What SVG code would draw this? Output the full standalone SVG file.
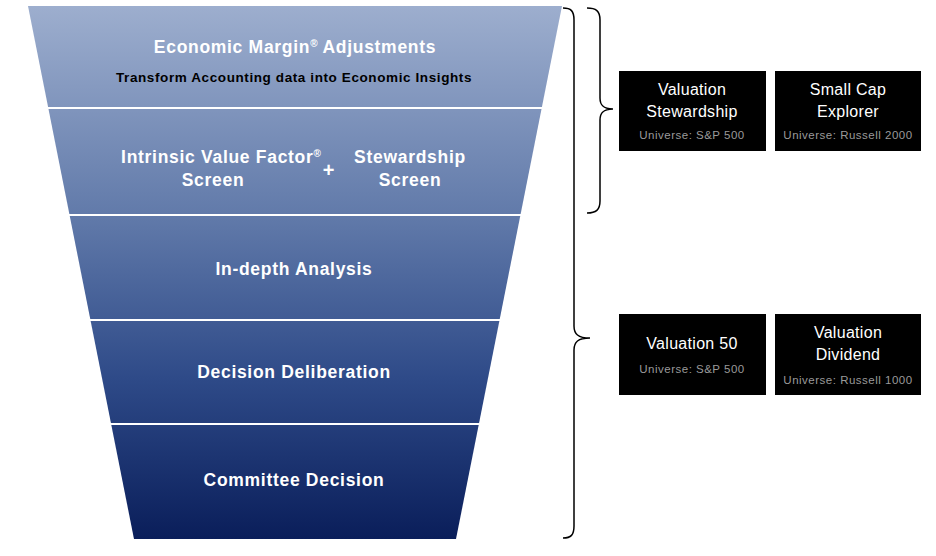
<svg xmlns="http://www.w3.org/2000/svg" width="936" height="556" viewBox="0 0 936 556">
<defs>
<linearGradient id="fg" gradientUnits="userSpaceOnUse" x1="0" y1="6" x2="0" y2="539">
<stop offset="0" stop-color="#9DAECE"/>
<stop offset="0.4" stop-color="#6079A9"/>
<stop offset="0.7" stop-color="#2E4A88"/>
<stop offset="1" stop-color="#0A1E5A"/>
</linearGradient>
<style>
.ft{font-family:"Liberation Sans",Arial,sans-serif;font-weight:bold;fill:#fff;text-anchor:middle;font-size:17.5px;letter-spacing:0.7px}
.sup{font-size:10px;letter-spacing:0}
.sub{font-family:"Liberation Sans",Arial,sans-serif;font-weight:bold;fill:#000;text-anchor:middle;font-size:13.5px;letter-spacing:0.6px}
.bx{fill:#000}
.bt{font-family:"Liberation Sans",Arial,sans-serif;fill:#fff;text-anchor:middle;font-size:16px;letter-spacing:0.3px}
.bs{font-family:"Liberation Sans",Arial,sans-serif;fill:#9a9a9a;text-anchor:middle;font-size:11.5px;letter-spacing:0.5px}
.sep{stroke:#fff;stroke-width:2}
.brace{fill:none;stroke:#000;stroke-width:1.5}
</style>
</defs>
<g id="funnel">
<polygon points="28,6 562,6 456,539 134,539" fill="url(#fg)"/>
</g>
<g id="separators">
<line class="sep" x1="40" y1="108" x2="550" y2="108"/>
<line class="sep" x1="60" y1="215" x2="530" y2="215"/>
<line class="sep" x1="80" y1="320" x2="510" y2="320"/>
<line class="sep" x1="100" y1="424" x2="490" y2="424"/>
</g>
<g id="stage1">
<text class="ft" x="295" y="53">Economic Margin<tspan class="sup" dy="-6">®</tspan><tspan dy="6"> Adjustments</tspan></text>
<text class="sub" x="294" y="82">Transform Accounting data into Economic Insights</text>
</g>
<g id="stage2">
<text class="ft" x="221" y="163">Intrinsic Value Factor<tspan class="sup" dy="-6">®</tspan></text>
<text class="ft" x="213" y="186">Screen</text>
<text class="ft" x="329" y="177" style="font-size:20px">+</text>
<text class="ft" x="410" y="163">Stewardship</text>
<text class="ft" x="410" y="186">Screen</text>
</g>
<g id="stage3"><text class="ft" x="294" y="275">In-depth Analysis</text></g>
<g id="stage4"><text class="ft" x="294" y="378">Decision Deliberation</text></g>
<g id="stage5"><text class="ft" x="294" y="486">Committee Decision</text></g>
<g id="connectors">
<path class="brace" d="M563,8 C571,8 574,11 574,20 L574,326 C574,334 578,338 590,338 C578,338 574,342 574,350 L574,526 C574,535 571,538 563,538"/>
<path class="brace" d="M587,8 C596,8 600,11 600,20 L600,98 C600,105 603,109 613,109 C603,109 600,113 600,120 L600,201 C600,210 596,213 587,213"/>
</g>
<g id="box-valuation-stewardship">
<rect class="bx" x="619" y="71" width="147" height="80"/>
<text class="bt" x="692" y="95">Valuation</text>
<text class="bt" x="692" y="117">Stewardship</text>
<text class="bs" x="692" y="139">Universe: S&amp;P 500</text>
</g>
<g id="box-small-cap">
<rect class="bx" x="775" y="71" width="146" height="80"/>
<text class="bt" x="848" y="95">Small Cap</text>
<text class="bt" x="848" y="117">Explorer</text>
<text class="bs" x="848" y="139">Universe: Russell 2000</text>
</g>
<g id="box-valuation-50">
<rect class="bx" x="619" y="314" width="147" height="81"/>
<text class="bt" x="692" y="349">Valuation 50</text>
<text class="bs" x="692" y="373">Universe: S&amp;P 500</text>
</g>
<g id="box-valuation-dividend">
<rect class="bx" x="775" y="314" width="146" height="81"/>
<text class="bt" x="848" y="338">Valuation</text>
<text class="bt" x="848" y="360">Dividend</text>
<text class="bs" x="848" y="384">Universe: Russell 1000</text>
</g>
</svg>
